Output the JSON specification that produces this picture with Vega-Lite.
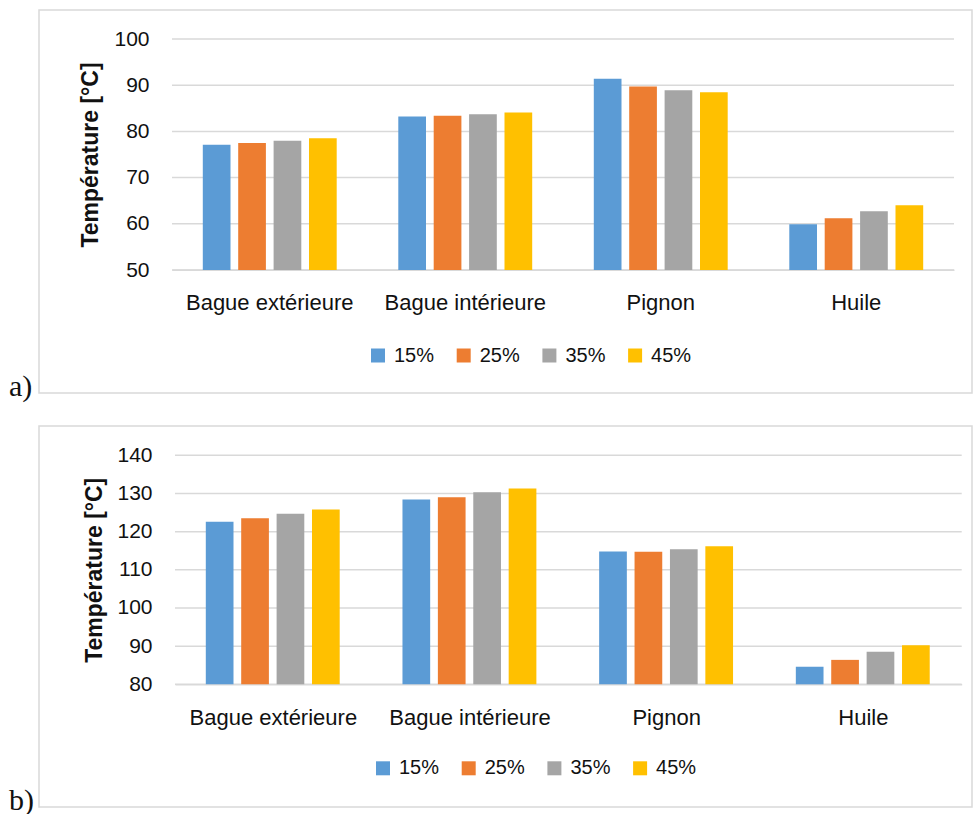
{
  "$schema": "https://vega.github.io/schema/vega-lite/v6.json",
  "padding": {"left": 8, "top": 9, "right": 0, "bottom": 0},
  "background": "white",
  "spacing": 22,
  "resolve": {"legend": {"color": "independent"}},
  "datasets": {
    "a": [
      {"cat": "Bague extérieure", "pct": "15%", "value": 77.1},
      {"cat": "Bague extérieure", "pct": "25%", "value": 77.5},
      {"cat": "Bague extérieure", "pct": "35%", "value": 78.0},
      {"cat": "Bague extérieure", "pct": "45%", "value": 78.5},
      {"cat": "Bague intérieure", "pct": "15%", "value": 83.2},
      {"cat": "Bague intérieure", "pct": "25%", "value": 83.4},
      {"cat": "Bague intérieure", "pct": "35%", "value": 83.7},
      {"cat": "Bague intérieure", "pct": "45%", "value": 84.1},
      {"cat": "Pignon", "pct": "15%", "value": 91.4},
      {"cat": "Pignon", "pct": "25%", "value": 89.7},
      {"cat": "Pignon", "pct": "35%", "value": 88.9},
      {"cat": "Pignon", "pct": "45%", "value": 88.5},
      {"cat": "Huile", "pct": "15%", "value": 59.9},
      {"cat": "Huile", "pct": "25%", "value": 61.2},
      {"cat": "Huile", "pct": "35%", "value": 62.7},
      {"cat": "Huile", "pct": "45%", "value": 64.0}
    ],
    "b": [
      {"cat": "Bague extérieure", "pct": "15%", "value": 122.6},
      {"cat": "Bague extérieure", "pct": "25%", "value": 123.5},
      {"cat": "Bague extérieure", "pct": "35%", "value": 124.7},
      {"cat": "Bague extérieure", "pct": "45%", "value": 125.8},
      {"cat": "Bague intérieure", "pct": "15%", "value": 128.4},
      {"cat": "Bague intérieure", "pct": "25%", "value": 129.0},
      {"cat": "Bague intérieure", "pct": "35%", "value": 130.3},
      {"cat": "Bague intérieure", "pct": "45%", "value": 131.3},
      {"cat": "Pignon", "pct": "15%", "value": 114.8},
      {"cat": "Pignon", "pct": "25%", "value": 114.7},
      {"cat": "Pignon", "pct": "35%", "value": 115.4},
      {"cat": "Pignon", "pct": "45%", "value": 116.2},
      {"cat": "Huile", "pct": "15%", "value": 84.6},
      {"cat": "Huile", "pct": "25%", "value": 86.4},
      {"cat": "Huile", "pct": "35%", "value": 88.5},
      {"cat": "Huile", "pct": "45%", "value": 90.2}
    ],
    "gridA": [{"value": 50}, {"value": 60}, {"value": 70}, {"value": 80}, {"value": 90}, {"value": 100}],
    "gridB": [{"value": 80}, {"value": 90}, {"value": 100}, {"value": 110}, {"value": 120}, {"value": 130}, {"value": 140}]
  },
  "config": {
    "view": {"stroke": "#d9d9d9", "strokeWidth": 1.5},
    "font": "Liberation Sans",
    "axis": {"labelFont": "Liberation Sans", "titleFont": "Liberation Sans", "labelColor": "#111111", "titleColor": "#111111", "ticks": false, "tickSize": 0, "grid": false, "zindex": 1},
    "legend": {"labelFont": "Liberation Sans", "labelColor": "#111111", "padding": 0}
  },
  "vconcat": [
    {
      "width": 933,
      "height": 383,
      "title": {"text": "a)", "orient": "bottom", "anchor": "start", "frame": "group", "dx": -30, "offset": -21, "font": "Liberation Serif", "fontSize": 30, "fontWeight": "normal", "color": "#111111"},
      "layer": [
        {
          "data": {"name": "gridA"},
          "mark": {"type": "rule", "color": "#d9d9d9", "strokeWidth": 1.5},
          "encoding": {
            "y": {"field": "value", "type": "quantitative"},
            "x": {"datum": "Bague extérieure", "type": "nominal", "bandPosition": 0},
            "x2": {"datum": "Huile", "bandPosition": 1}
          }
        },
        {
          "data": {"name": "a"},
          "mark": {"type": "bar"},
          "encoding": {
            "x": {"field": "cat", "type": "nominal", "sort": ["Bague extérieure", "Bague intérieure", "Pignon", "Huile"],
                  "scale": {"type": "band", "range": [133, 915], "paddingInner": 0, "paddingOuter": 0},
                  "axis": {"title": null, "offset": -123.2, "labelPadding": 33, "labelBaseline": "middle", "labelAlign": "center", "labelFontSize": 22, "labelAngle": 0, "domain": true, "domainColor": "#d9d9d9", "domainWidth": 1.5, "ticks": false}},
            "xOffset": {"field": "pct", "type": "nominal", "scale": {"paddingInner": 0.2175, "paddingOuter": 0.87}},
            "y": {"field": "value", "type": "quantitative",
                  "scale": {"domain": [50, 100], "range": [260, 29], "zero": false, "nice": false},
                  "axis": {"title": "Température [°C]", "offset": -133, "labelPadding": 23, "labelFontSize": 21, "labelBaseline": "middle", "values": [50, 60, 70, 80, 90, 100], "domain": false, "ticks": false, "titleFontSize": 23, "titleFontWeight": "bold", "titleX": -82, "titleY": 144.5, "titleBaseline": "middle", "titleAngle": -90, "titleAlign": "center"}},
            "y2": {"datum": 50},
            "color": {"field": "pct", "type": "nominal",
                      "scale": {"domain": ["15%", "25%", "35%", "45%"], "range": ["#5b9bd5", "#ed7d31", "#a5a5a5", "#ffc000"]},
                      "legend": {"orient": "none", "legendX": 329, "legendY": 335.5, "direction": "horizontal", "title": null, "symbolType": "square", "symbolSize": 196, "symbolStrokeWidth": 0, "labelFontSize": 20, "labelOffset": 6, "columnPadding": 18.7}}
          }
        }
      ]
    },
    {
      "width": 933,
      "height": 381,
      "title": {"text": "b)", "orient": "bottom", "anchor": "start", "frame": "group", "dx": -30, "offset": -21, "font": "Liberation Serif", "fontSize": 30, "fontWeight": "normal", "color": "#111111"},
      "layer": [
        {
          "data": {"name": "gridB"},
          "mark": {"type": "rule", "color": "#d9d9d9", "strokeWidth": 1.5},
          "encoding": {
            "y": {"field": "value", "type": "quantitative"},
            "x": {"datum": "Bague extérieure", "type": "nominal", "bandPosition": 0},
            "x2": {"datum": "Huile", "bandPosition": 1}
          }
        },
        {
          "data": {"name": "b"},
          "mark": {"type": "bar"},
          "encoding": {
            "x": {"field": "cat", "type": "nominal", "sort": ["Bague extérieure", "Bague intérieure", "Pignon", "Huile"],
                  "scale": {"type": "band", "range": [136, 922.7], "paddingInner": 0, "paddingOuter": 0},
                  "axis": {"title": null, "offset": -122.7, "labelPadding": 33, "labelBaseline": "middle", "labelAlign": "center", "labelFontSize": 22, "labelAngle": 0, "domain": true, "domainColor": "#d9d9d9", "domainWidth": 1.5, "ticks": false}},
            "xOffset": {"field": "pct", "type": "nominal", "scale": {"paddingInner": 0.2175, "paddingOuter": 0.87}},
            "y": {"field": "value", "type": "quantitative",
                  "scale": {"domain": [80, 140], "range": [258.3, 29.3], "zero": false, "nice": false},
                  "axis": {"title": "Température [°C]", "offset": -136, "labelPadding": 23, "labelFontSize": 21, "labelBaseline": "middle", "values": [80, 90, 100, 110, 120, 130, 140], "domain": false, "ticks": false, "titleFontSize": 23, "titleFontWeight": "bold", "titleX": -80.5, "titleY": 143.8, "titleBaseline": "middle", "titleAngle": -90, "titleAlign": "center"}},
            "y2": {"datum": 80},
            "color": {"field": "pct", "type": "nominal",
                      "scale": {"domain": ["15%", "25%", "35%", "45%"], "range": ["#5b9bd5", "#ed7d31", "#a5a5a5", "#ffc000"]},
                      "legend": {"orient": "none", "legendX": 334, "legendY": 332.3, "direction": "horizontal", "title": null, "symbolType": "square", "symbolSize": 196, "symbolStrokeWidth": 0, "labelFontSize": 20, "labelOffset": 6, "columnPadding": 18.7}}
          }
        }
      ]
    }
  ]
}
